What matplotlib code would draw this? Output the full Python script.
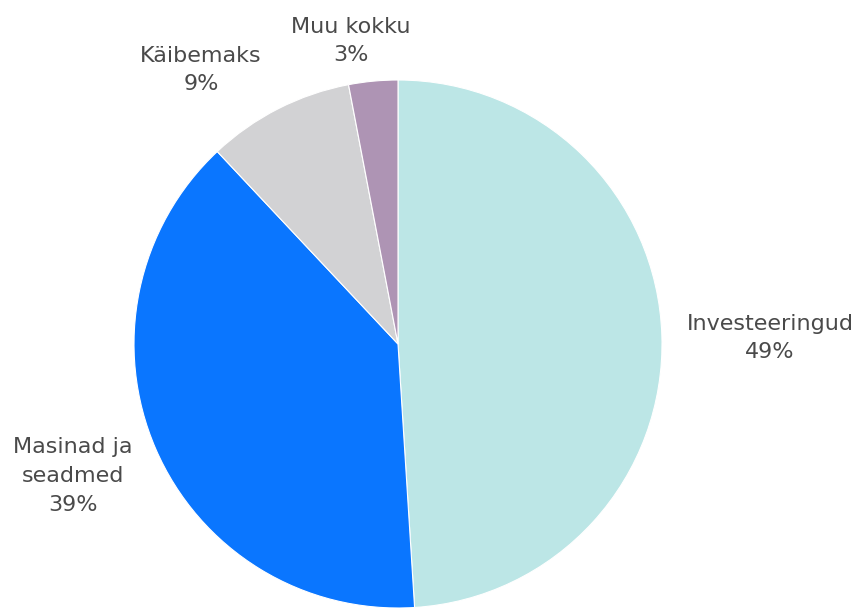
import matplotlib.pyplot as plt

kategooriad = ["Investeeringud", "Masinad ja\nseadmed", "Käibemaks", "Muu kokku"]
osakaalud = [49, 39, 9, 3]
varvid = ["#bce6e6", "#0a76ff", "#d2d2d4", "#ae94b4"]

# sildi keskpunktid pikslites (x, y ülevalt)
sildi_kohad = [(770, 338), (73, 476), (201, 70), (351, 41)]

plt.rcParams['font.family'] = ['DejaVu Sans']

W, H = 856, 608
fig = plt.figure(figsize=(W / 100, H / 100), dpi=100)
ax = fig.add_axes([0, 0, 1, 1])

ax.pie(osakaalud, colors=varvid, startangle=90, counterclock=False,
       center=(398, H - 344), radius=264,
       wedgeprops=dict(edgecolor='white', linewidth=0.8))

# pie muudab telgede piire, seega seame need pärast
ax.set_xlim(0, W)
ax.set_ylim(0, H)
ax.set_aspect('equal')
ax.axis('off')

for nimi, v, (x, y) in zip(kategooriad, osakaalud, sildi_kohad):
    ax.text(x, H - y, nimi + "\n" + str(v) + "%", ha='center', va='center',
            fontsize=16, color='#4a4a4a', linespacing=1.55)

fig.savefig("out.png", dpi=100)
